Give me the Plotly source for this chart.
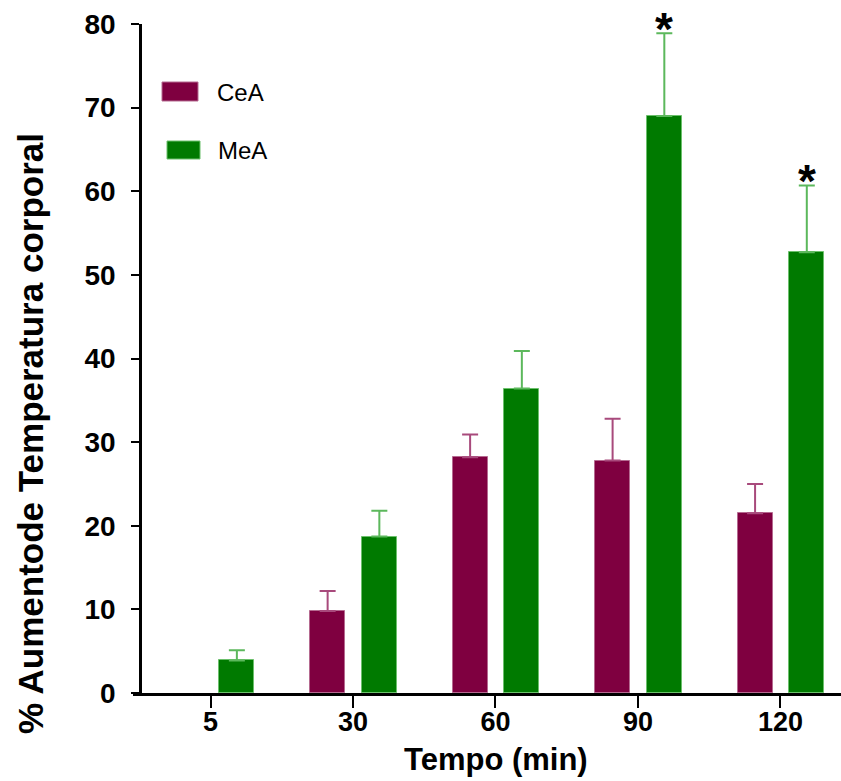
import plotly.graph_objects as go

# ---- data ----
categories = ["5", "30", "60", "90", "120"]
cea_values = [None, 9.8, 28.2, 27.8, 21.5]
cea_errors = [None, 2.4, 2.7, 5.0, 3.5]
mea_values = [3.9, 18.7, 36.4, 69.0, 52.7]
mea_errors = [1.2, 3.1, 4.5, 9.9, 8.0]
significant = [False, False, False, True, True]  # MeA marked with *
y_ticks = [0, 10, 20, 30, 40, 50, 60, 70, 80]
x_title = "Tempo (min)"
y_title = "% Aumentode Temperatura corporal"

# ---- styling ----
W, H = 841, 781
L, R, T, B = 133, 0, 24, 88
PW, PH = W - L - R, H - T - B
CEA_COLOR = "#7F0040"
CEA_EDGE = "#B56A90"
CEA_ERR = "#A84A7C"
MEA_COLOR = "#007A00"
MEA_EDGE = "#6CC06C"
MEA_ERR = "#5CB85C"
FONT = "Liberation Sans, Arial, sans-serif"

xs = list(range(len(categories)))
bar_w = 0.246

def px(x):
    return (x - L) / PW

def py(y):
    return (H - B - y) / PH

fig = go.Figure()
fig.add_trace(go.Bar(
    x=xs, y=cea_values, name="CeA", width=bar_w, offset=-0.301,
    marker=dict(color=CEA_COLOR, line=dict(color=CEA_EDGE, width=1)),
    error_y=dict(type="data", array=cea_errors, symmetric=False,
                 arrayminus=[0] * len(xs), color=CEA_ERR, thickness=2, width=8),
    showlegend=False,
))
fig.add_trace(go.Bar(
    x=xs, y=mea_values, name="MeA", width=bar_w, offset=0.062,
    marker=dict(color=MEA_COLOR, line=dict(color=MEA_EDGE, width=1)),
    error_y=dict(type="data", array=mea_errors, symmetric=False,
                 arrayminus=[0] * len(xs), color=MEA_ERR, thickness=2, width=8),
    showlegend=False,
))

# significance asterisks above MeA error bars
for i, sig in enumerate(significant):
    if sig:
        fig.add_annotation(
            x=i + 0.062 + bar_w / 2, y=mea_values[i] + mea_errors[i],
            xref="x", yref="y", text="<b>*</b>", showarrow=False,
            yanchor="middle", yshift=4,
            font=dict(family=FONT, size=46, color="black"),
        )

# legend drawn as boxes + labels
legend_items = [("CeA", CEA_COLOR, CEA_EDGE, (162, 198, 82, 101), (215, 92)),
                ("MeA", MEA_COLOR, MEA_EDGE, (167, 200, 141, 159), (216, 150))]
for label, col, edge, (x0, x1, y0, y1), (tx, ty) in legend_items:
    fig.add_shape(type="rect", xref="paper", yref="paper",
                  x0=px(x0), x1=px(x1), y0=py(y1), y1=py(y0),
                  fillcolor=col, line=dict(color=edge, width=1))
    fig.add_annotation(xref="paper", yref="paper", x=px(tx), y=py(ty),
                       xanchor="left", yanchor="middle", text=label,
                       showarrow=False,
                       font=dict(family=FONT, size=24, color="black"))

# axis titles
fig.add_annotation(xref="paper", yref="paper", x=px(496), y=py(759),
                   xanchor="center", yanchor="middle", text="<b>" + x_title + "</b>",
                   showarrow=False, font=dict(family=FONT, size=31, color="black"))
fig.add_annotation(xref="paper", yref="paper", x=px(31), y=py(434),
                   xanchor="center", yanchor="middle", textangle=-90,
                   text="<b>" + y_title + "</b>",
                   showarrow=False, font=dict(family=FONT, size=35, color="black"))

fig.update_layout(
    width=W, height=H,
    margin=dict(l=L, r=R, t=T, b=B, autoexpand=False),
    plot_bgcolor="white", paper_bgcolor="white",
    bargap=0,
    xaxis=dict(
        range=[-0.544, 4.425],
        tickmode="array", tickvals=xs, ticktext=categories,
        showline=True, linecolor="black", linewidth=2.5,
        ticks="outside", ticklen=12, tickwidth=2, tickcolor="black",
        showgrid=False, zeroline=False,
        tickfont=dict(family=FONT, size=27, color="black", weight="bold"),
        ticklabelstandoff=-9,
    ),
    yaxis=dict(
        range=[0, 80], tickmode="array", tickvals=y_ticks,
        anchor="free", position=(140 - L) / PW,
        showline=True, linecolor="black", linewidth=2.5,
        ticks="outside", ticklen=8, tickwidth=2, tickcolor="black",
        showgrid=False, zeroline=False,
        tickfont=dict(family=FONT, size=28, color="black", weight="bold"),
        ticklabelstandoff=10,
    ),
)

fig.write_html("out.html")
